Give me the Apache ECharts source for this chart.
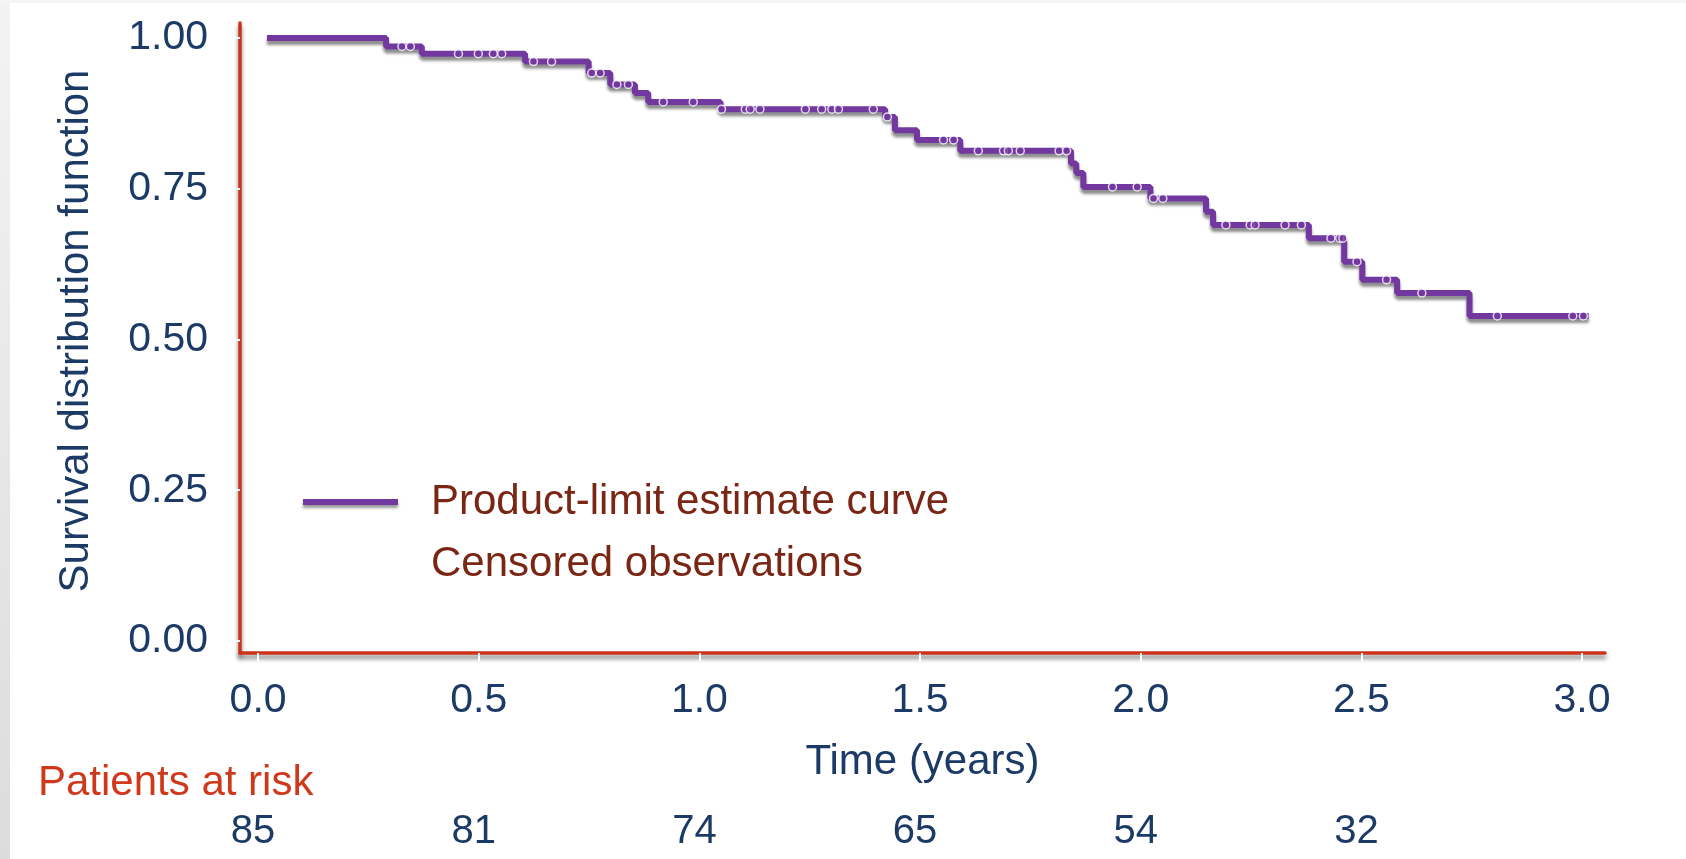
<!DOCTYPE html>
<html>
<head>
<meta charset="utf-8">
<title>Survival distribution function</title>
<style>
  html, body { margin: 0; padding: 0; background: #ffffff; }
  #chart { width: 1686px; height: 859px; }
</style>
<script src="https://cdn.jsdelivr.net/npm/echarts@6/dist/echarts.min.js"></script>
</head>
<body>
<div id="chart"></div>
<script>
// Axis ticks
const timeTicks = [0, 0.5, 1, 1.5, 2, 2.5, 3];
const survTicks = [0, 0.25, 0.5, 0.75, 1];

// Number of patients at risk at each half-year mark
const atRisk = [85, 81, 74, 65, 54, 32];

// Product-limit (Kaplan-Meier) estimate: event times (years) and survival after each event
const eventTimes = [0.02, 0.290, 0.371, 0.605, 0.749, 0.798, 0.854, 0.884, 1.048, 1.421,
                    1.443, 1.493, 1.591, 1.842, 1.854, 1.870, 2.022, 2.148, 2.164, 2.381,
                    2.461, 2.502, 2.581, 2.745];
const survival   = [1.000, 0.986, 0.974, 0.961, 0.942, 0.923, 0.909, 0.894, 0.882, 0.869,
                    0.847, 0.831, 0.813, 0.792, 0.776, 0.753, 0.734, 0.712, 0.690, 0.668,
                    0.629, 0.599, 0.577, 0.539];
const followUpEnd = 3.015;

// Censoring times (years)
const censorTimes = [0.326, 0.345, 0.454, 0.499, 0.533, 0.552, 0.624, 0.665, 0.756, 0.775,
                     0.813, 0.839, 0.918, 0.986, 1.050, 1.104, 1.115, 1.137, 1.240, 1.277,
                     1.300, 1.315, 1.394, 1.426, 1.553, 1.576, 1.632, 1.689, 1.700, 1.727,
                     1.815, 1.832, 1.936, 1.992, 2.029, 2.050, 2.193, 2.248, 2.259, 2.327,
                     2.364, 2.431, 2.451, 2.458, 2.490, 2.557, 2.637, 2.808, 2.979, 3.003];

const FONT = "'Liberation Sans', Arial, sans-serif";
const NAVY = '#1c3a66';
const AXIS_RED = '#cc3318';
const TEXT_RED = '#d0381c';
const MAROON = '#7a2614';
const PURPLE = '#7238a0';

// Step curve points, extended to the end of follow-up
const curve = eventTimes.map((t, i) => [t, survival[i]]);
curve.push([followUpEnd, survival[survival.length - 1]]);

// Censored marks sit on the curve at their time
function survivalAt(t) {
  let s = survival[0];
  for (let i = 0; i < eventTimes.length; i++) {
    if (eventTimes[i] <= t) s = survival[i];
  }
  return s;
}
const censored = censorTimes.map(t => [t, survivalAt(t)]);

const X_MIN = -0.041, X_MAX = 3.052;
const Y_MIN = -0.02, Y_MAX = 1.025;

const axisLineStyle = {
  color: AXIS_RED, width: 3.5,
  shadowColor: 'rgba(0,0,0,0.5)', shadowBlur: 4, shadowOffsetX: 0, shadowOffsetY: 4
};

const chart = echarts.init(document.getElementById('chart'), null, { renderer: 'canvas' });

chart.setOption({
  backgroundColor: '#ffffff',
  animation: false,
  textStyle: { fontFamily: FONT },
  grid: { left: 240, right: 81, top: 23, bottom: 206, containLabel: false, outerBoundsMode: 'none' },
  xAxis: [
    {
      type: 'value', min: X_MIN, max: X_MAX,
      splitLine: { show: false },
      axisLine: { show: true, onZero: false, lineStyle: axisLineStyle },
      axisTick: { show: true, customValues: timeTicks, length: 8, lineStyle: { color: '#ffffff', width: 2 } },
      axisLabel: { customValues: timeTicks, formatter: v => v.toFixed(1), color: NAVY, fontSize: 41, margin: 27 },
      name: 'Time (years)', nameLocation: 'middle', nameGap: 88,
      nameTextStyle: { color: NAVY, fontSize: 42 }
    },
    {
      // patients-at-risk row under the time axis
      type: 'value', min: X_MIN, max: X_MAX, position: 'bottom',
      splitLine: { show: false },
      axisLine: { show: false },
      axisTick: { show: false },
      axisLabel: {
        customValues: timeTicks.slice(0, atRisk.length),
        formatter: v => String(atRisk[timeTicks.findIndex(t => Math.abs(t - v) < 1e-9)]),
        color: NAVY, fontSize: 40, margin: 159, padding: [0, 10, 0, 0]
      }
    }
  ],
  yAxis: {
    type: 'value', min: Y_MIN, max: Y_MAX,
    splitLine: { show: false },
    axisLine: { show: true, onZero: false, lineStyle: axisLineStyle },
    axisTick: { show: true, customValues: survTicks, length: 6, lineStyle: { color: '#ffffff', width: 2 } },
    axisLabel: { customValues: survTicks, formatter: v => v.toFixed(2), color: NAVY, fontSize: 41, margin: 32, padding: [14, 0, 0, 0] }
  },
  legend: {
    left: 297, top: 476, orient: 'vertical',
    itemWidth: 95, itemHeight: 6, itemGap: 20,
    selectedMode: false,
    textStyle: { color: MAROON, fontSize: 42, padding: [0, 0, 0, 28] },
    data: [
      { name: 'Product-limit estimate curve', icon: 'rect',
        itemStyle: { color: PURPLE, shadowColor: 'rgba(0,0,0,0.4)', shadowBlur: 3, shadowOffsetY: 3 } },
      { name: 'Censored observations', icon: 'rect', itemStyle: { opacity: 0 } }
    ]
  },
  graphic: [
    {
      type: 'rect', left: 0, top: 0, silent: true,
      shape: { width: 10, height: 859 },
      style: { fill: new echarts.graphic.LinearGradient(0, 0, 0, 1, [
        { offset: 0, color: '#f3f3f3' }, { offset: 1, color: '#dcdcdc' }]) }
    },
    {
      type: 'rect', left: 0, top: 0, silent: true,
      shape: { width: 1686, height: 3 },
      style: { fill: '#f5f5f5' }
    },
    {
      type: 'text', x: 76, y: 331, rotation: Math.PI / 2, silent: true,
      style: { text: 'Survival distribution function', fill: NAVY, fontSize: 42, fontFamily: FONT,
               align: 'center', verticalAlign: 'middle' }
    },
    {
      type: 'text', x: 38, y: 783, silent: true,
      style: { text: 'Patients at risk', fill: TEXT_RED, fontSize: 42, fontFamily: FONT,
               align: 'left', verticalAlign: 'middle' }
    }
  ],
  series: [
    {
      name: 'Product-limit estimate curve', type: 'line', step: 'end',
      data: curve, symbol: 'none', showSymbol: false,
      lineStyle: { color: PURPLE, width: 6, cap: 'butt',
                   shadowColor: 'rgba(0,0,0,0.45)', shadowBlur: 3, shadowOffsetY: 4 },
      itemStyle: { color: PURPLE },
      z: 2
    },
    {
      name: 'Censored observations', type: 'scatter',
      data: censored, symbol: 'circle', symbolSize: 8,
      itemStyle: { color: PURPLE, borderColor: '#ffffff', borderWidth: 1.5 },
      z: 3
    }
  ]
});
</script>
</body>
</html>
